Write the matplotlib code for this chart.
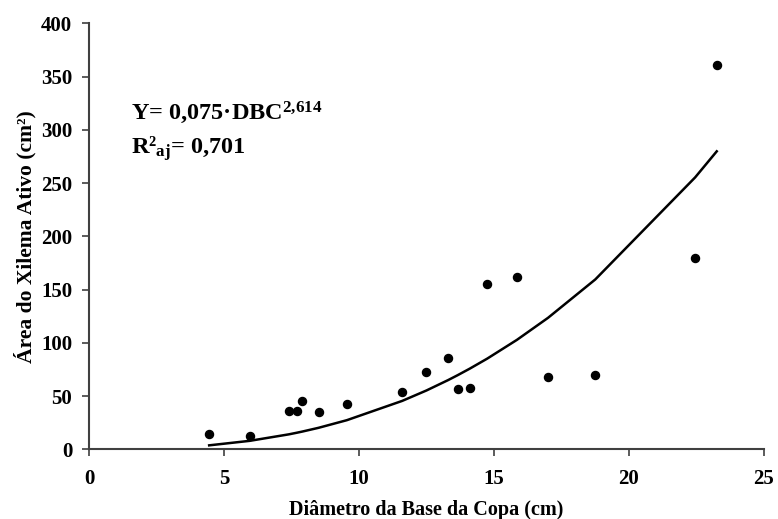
import numpy as np
import matplotlib.pyplot as plt

plt.rcParams['font.family'] = ['Liberation Serif', 'DejaVu Serif']
plt.rcParams['font.weight'] = 'bold'
plt.rcParams['mathtext.default'] = 'regular'

# diameter of crown base (cm) and active xylem area (cm2)
dbc = [4.45, 5.95, 7.4, 7.7, 7.9, 8.5, 9.55, 11.6, 12.5, 13.3, 13.65, 14.1,
       14.75, 15.85, 17.0, 18.75, 22.45, 23.25]
area = [14.6, 12.2, 36.3, 36.3, 45.6, 35.0, 43.0, 53.8, 72.5, 86.0, 57.0, 58.0,
        155.0, 162.0, 68.0, 70.0, 180.0, 361.0]

# fitted model shown on the chart
coef_a = 0.075
coef_b = 2.614

x_fit = np.sort(np.array(dbc))
y_fit = coef_a * x_fit ** coef_b

fig = plt.figure(figsize=(7.78, 5.19), dpi=100)
ax = fig.add_axes([0.1144, 0.1343, 0.8676, 0.8207])

ax.plot(x_fit, y_fit, color='black', linewidth=1.8)
ax.plot(dbc, area, 'o', color='black', markersize=5.8)

ax.set_xlim(0, 25)
ax.set_ylim(0, 400)
ax.set_xticks([0, 5, 10, 15, 20, 25])
ax.set_yticks(range(0, 401, 50))
ax.tick_params(direction='out', length=5, width=1.2, colors='#404040',
               labelcolor='black', labelsize=15)
ax.tick_params(axis='x', pad=9)
ax.tick_params(axis='y', pad=7)
for s in ['top', 'right']:
    ax.spines[s].set_visible(False)
for s in ['left', 'bottom']:
    ax.spines[s].set_color('#404040')
    ax.spines[s].set_linewidth(1.5)

ax.set_xlabel('Diâmetro da Base da Copa (cm)', fontsize=14.5, fontweight='bold',
              labelpad=8)
ax.set_ylabel('Área do Xilema Ativo (cm²)', fontsize=15.5, fontweight='bold',
              labelpad=3)

ax.text(1.55, 310, 'Y= 0,075·DBC$^{2{,}614}$', fontsize=17.5, fontweight='bold')
ax.text(1.55, 278, 'R²$_{aj}$= 0,701', fontsize=17.5, fontweight='bold')

fig.savefig('out.png', dpi=100)
